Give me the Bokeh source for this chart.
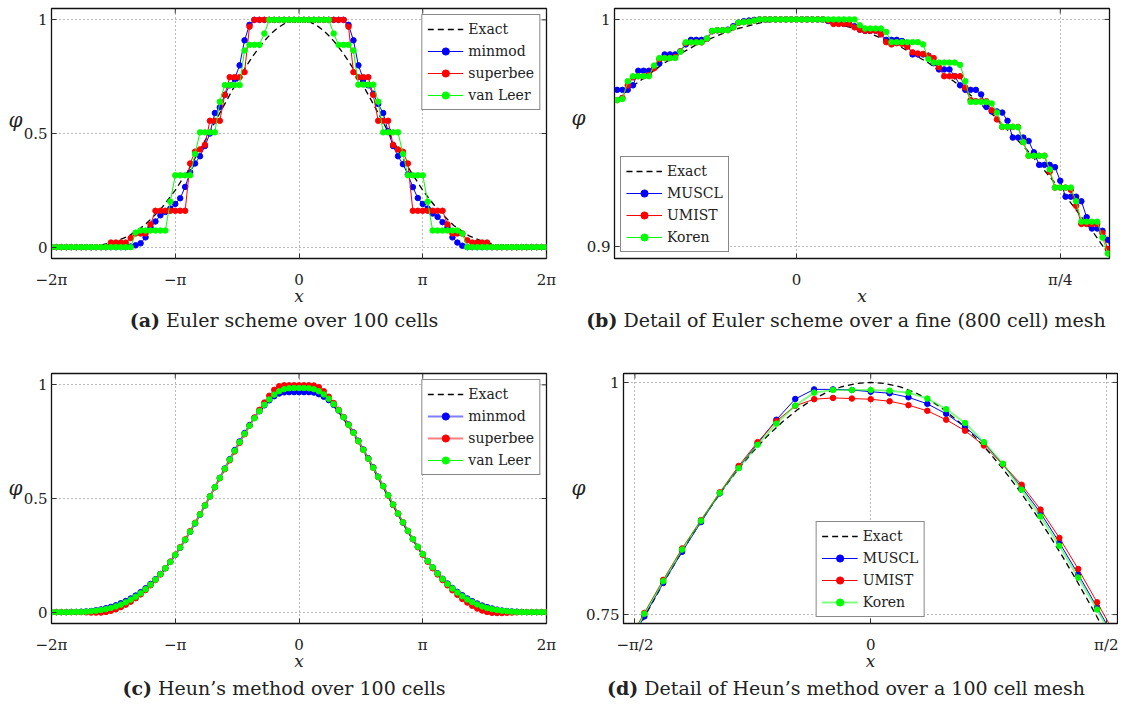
import numpy as np
from bokeh.plotting import figure
from bokeh.models import Range1d, FixedTicker, Legend, LegendItem, LinearAxis, Div
from bokeh.layouts import row, column
from bokeh.embed import file_html
from bokeh.resources import INLINE

PI = np.pi
FONT = "DejaVu Serif"
BLUE, RED, GREEN = "#0000FF", "#FF0000", "#00FF00"

# ---------------- data ----------------
# meshes
X100 = np.linspace(-2 * PI, 2 * PI, 101)                  # 100-cell mesh nodes
J800 = list(range(365, 461))                               # 800-cell mesh indices shown in (b)
X800 = np.array([(-2 + j / 200.0) * PI for j in J800])
XD = X100[37:64]                                           # nodes shown in (d)

# exact solution (x in units of pi/32)
EXACT_K = list(range(-64, -19, 4)) + list(range(-17, 18)) + list(range(20, 65, 4))
EXACT_X = np.array(EXACT_K) * PI / 32
EXACT_Y = [0, 0.0001, 0.0014, 0.0071, 0.0214, 0.0494, 0.0953, 0.1620, 0.25, 0.3571, 0.4780, 0.6050,
           0.6985, 0.7286, 0.7577, 0.7859, 0.8129, 0.8386, 0.8628, 0.8854, 0.9063, 0.9253, 0.9424,
           0.9574, 0.9703, 0.9809, 0.9892, 0.9952, 0.9988, 1.0,
           0.9988, 0.9952, 0.9892, 0.9809, 0.9703, 0.9574, 0.9424, 0.9253, 0.9063, 0.8854, 0.8628,
           0.8386, 0.8129, 0.7859, 0.7577, 0.7286, 0.6985,
           0.6050, 0.4780, 0.3571, 0.25, 0.1620, 0.0953, 0.0494, 0.0214, 0.0071, 0.0014, 0.0001, 0]

# (a) Euler, 100 cells
EULER_MINMOD = [0] * 16 + [0.003, 0.008, 0.017, 0.043, 0.087, 0.113, 0.14, 0.155, 0.17, 0.19, 0.215, 0.265,
                0.33, 0.368, 0.40, 0.445, 0.50, 0.59, 0.615, 0.67, 0.712, 0.74, 0.80, 0.91, 0.978] \
    + [1.0] * 19 + [0.978, 0.91, 0.80, 0.74, 0.712, 0.675, 0.63, 0.59, 0.51, 0.445, 0.40, 0.365, 0.32, 0.264,
                    0.216, 0.19, 0.17, 0.148, 0.133, 0.11, 0.087, 0.043, 0.02, 0.006] + [0] * 17
EULER_SUPERBEE = [0] * 12 + [0.02] * 4 + [0.04] + [0.06] * 3 + [0.10] + [0.16] * 7 \
    + [0.368, 0.42, 0.43, 0.45] + [0.556] * 3 + [0.67] + [0.748] * 3 + [0.77, 0.97] + [1.0] * 19 \
    + [0.97, 0.77] + [0.748] * 3 + [0.67] + [0.556] * 3 + [0.45, 0.43, 0.42, 0.368] + [0.16] * 7 \
    + [0.10] + [0.06] * 3 + [0.03] + [0.02] * 4 + [0] * 12
EULER_VANLEER = [0] * 17 + [0.064] + [0.073] * 6 + [0.20] + [0.316] * 4 + [0.41] + [0.505] * 4 + [0.64] \
    + [0.713] * 4 + [0.865] + [0.89] * 3 + [0.94] + [1.0] * 13 + [0.94] + [0.89] * 3 + [0.865] \
    + [0.715] * 4 + [0.64] + [0.505] * 4 + [0.41] + [0.316] * 4 + [0.20] + [0.073] * 6 + [0.06] + [0] * 17

# (b) Euler detail, 800 cells
FINE_MUSCL = [0.969, 0.969, 0.969, 0.969, 0.971, 0.9774, 0.9774, 0.9774, 0.9786, 0.9807, 0.9846, 0.9846,
              0.9846, 0.986, 0.989, 0.991, 0.991, 0.991, 0.9915, 0.9948, 0.9952, 0.9952, 0.9955, 0.997,
              0.9986, 0.9992, 0.9995, 0.9998] + [1.0] * 12 \
    + [1.0, 0.9993, 0.9988, 0.9985, 0.998, 0.998, 0.997, 0.9955, 0.995, 0.995, 0.995, 0.9935, 0.991, 0.991,
       0.991, 0.9905, 0.9887, 0.9846, 0.9846, 0.9846, 0.984, 0.9807, 0.978, 0.978, 0.978, 0.975, 0.971,
       0.969, 0.969, 0.969, 0.967, 0.9615, 0.9595, 0.9595, 0.959, 0.9554, 0.948, 0.948, 0.948, 0.9465,
       0.9415, 0.936, 0.936, 0.936, 0.935, 0.929, 0.922, 0.922, 0.922, 0.920, 0.913, 0.908, 0.908, 0.907,
       0.903, 0.896]
FINE_UMIST = [0.964, 0.9645, 0.9655, 0.971, 0.9745, 0.975, 0.975, 0.9755, 0.9785, 0.9825, 0.983, 0.983,
              0.9835, 0.986, 0.9895, 0.9899, 0.9899, 0.9899, 0.9915, 0.9948, 0.9952, 0.9952, 0.9953, 0.9965,
              0.9985, 0.9988, 0.999, 0.9995] + [1.0] * 13 \
    + [0.9995, 0.998, 0.998, 0.998, 0.998, 0.9965, 0.9955, 0.995, 0.995, 0.995, 0.9935, 0.990, 0.989,
       0.9895, 0.9893, 0.988, 0.9855, 0.985, 0.9848, 0.984, 0.983, 0.979, 0.975, 0.975, 0.975, 0.975,
       0.970, 0.9645, 0.964, 0.964, 0.964, 0.960, 0.956, 0.9527, 0.9527, 0.9527, 0.9527, 0.946, 0.940,
       0.940, 0.940, 0.940, 0.933, 0.926, 0.926, 0.926, 0.925, 0.918, 0.910, 0.910, 0.910, 0.910, 0.906,
       0.899, 0.892]
FINE_KOREN = [0.964, 0.9645, 0.965, 0.9728, 0.975, 0.975, 0.975, 0.975, 0.9797, 0.983, 0.983, 0.983,
              0.983, 0.9858, 0.9899, 0.9899, 0.9899, 0.9899, 0.9916, 0.995, 0.9952, 0.9952, 0.9952, 0.9965,
              0.9986, 0.9988, 0.999, 0.9995] + [1.0] * 19 \
    + [0.9974, 0.996, 0.996, 0.996, 0.996, 0.9945, 0.990, 0.990, 0.990, 0.990, 0.990, 0.990, 0.989,
       0.9826, 0.981, 0.981, 0.981, 0.981, 0.981, 0.980, 0.9728, 0.9637, 0.9637, 0.9637, 0.9637, 0.963,
       0.959, 0.9528, 0.9528, 0.9528, 0.9525, 0.946, 0.940, 0.940, 0.940, 0.940, 0.934, 0.926, 0.926,
       0.926, 0.926, 0.920, 0.911, 0.911, 0.911, 0.911, 0.904, 0.897, 0.890]

# (c) Heun, 100 cells
HEUN_MINMOD = [0, 0, 0, 0, 0.001, 0.001, 0.002, 0.003, 0.005, 0.008, 0.012, 0.017, 0.023, 0.030, 0.039,
               0.049, 0.060, 0.073, 0.088, 0.105, 0.124, 0.145, 0.168, 0.193, 0.221, 0.251, 0.283, 0.317,
               0.353, 0.390, 0.429, 0.469, 0.509, 0.550, 0.591, 0.632, 0.673, 0.713, 0.751, 0.788, 0.823,
               0.855, 0.884, 0.910, 0.932, 0.950, 0.962, 0.967, 0.968, 0.968, 0.968,
               0.968, 0.968, 0.966, 0.959, 0.948, 0.933, 0.912, 0.887, 0.858, 0.826, 0.791, 0.754, 0.716,
               0.677, 0.637, 0.596, 0.555, 0.514, 0.473, 0.433, 0.394, 0.357, 0.321, 0.287, 0.255, 0.225,
               0.197, 0.171, 0.147, 0.126, 0.106, 0.089, 0.074, 0.060, 0.048, 0.038, 0.029, 0.022, 0.016,
               0.011, 0.007, 0.005, 0.003, 0.002, 0.001, 0, 0, 0, 0, 0]
HEUN_SUPERBEE = [0, 0, 0, 0, 0, 0, 0, -0.001, -0.002, -0.002, -0.002, 0.001, 0.006, 0.013, 0.022, 0.033,
                 0.046, 0.061, 0.078, 0.097, 0.118, 0.141, 0.166, 0.193, 0.222, 0.253, 0.286, 0.320, 0.356,
                 0.393, 0.431, 0.470, 0.509, 0.549, 0.589, 0.629, 0.668, 0.707, 0.745, 0.783, 0.820, 0.856,
                 0.890, 0.922, 0.952, 0.978, 0.994, 0.998, 0.998, 0.998, 0.998,
                 0.998, 0.998, 0.997, 0.990, 0.972, 0.948, 0.920, 0.890, 0.858, 0.824, 0.789, 0.752, 0.714,
                 0.675, 0.635, 0.594, 0.554, 0.513, 0.473, 0.434, 0.395, 0.357, 0.321, 0.286, 0.253, 0.222,
                 0.193, 0.166, 0.141, 0.118, 0.096, 0.076, 0.058, 0.042, 0.028, 0.016, 0.007, 0.001, -0.003,
                 -0.004, -0.004, -0.003, -0.002, -0.001, 0, 0, 0, 0, 0, 0]
HEUN_VANLEER = [0, 0, 0, 0, 0, 0.001, 0.001, 0.002, 0.004, 0.006, 0.009, 0.013, 0.018, 0.025, 0.033, 0.043,
                0.055, 0.068, 0.083, 0.101, 0.121, 0.143, 0.167, 0.193, 0.221, 0.252, 0.284, 0.318, 0.354,
                0.391, 0.430, 0.469, 0.509, 0.550, 0.590, 0.631, 0.671, 0.710, 0.748, 0.785, 0.820, 0.853,
                0.884, 0.912, 0.936, 0.957, 0.972, 0.981, 0.985, 0.986, 0.986,
                0.986, 0.985, 0.981, 0.972, 0.958, 0.939, 0.915, 0.888, 0.857, 0.824, 0.789, 0.752, 0.714,
                0.675, 0.635, 0.595, 0.554, 0.514, 0.474, 0.434, 0.395, 0.358, 0.322, 0.288, 0.256, 0.225,
                0.197, 0.170, 0.146, 0.124, 0.104, 0.086, 0.070, 0.056, 0.044, 0.034, 0.025, 0.018, 0.013,
                0.009, 0.006, 0.004, 0.002, 0.001, 0, 0, 0, 0, 0, 0]

# (d) Heun detail, 100 cells (nodes 37..63)
HEUN_MUSCL = [0.712, 0.748, 0.784, 0.8176, 0.8496, 0.8805, 0.9083, 0.9342, 0.9598, 0.9822, 0.9925, 0.9925,
              0.9918, 0.990, 0.9883, 0.984, 0.9769, 0.9662, 0.952, 0.9349, 0.9118, 0.887, 0.8596, 0.8276,
              0.7934, 0.7579, 0.722]
HEUN_UMIST = [0.716, 0.7518, 0.7874, 0.8212, 0.8517, 0.8816, 0.9101, 0.9357, 0.9584, 0.9748, 0.9819, 0.9833,
              0.9826, 0.9819, 0.9797, 0.9755, 0.9694, 0.9598, 0.948, 0.932, 0.9118, 0.8898, 0.8631, 0.8326,
              0.7991, 0.7632, 0.727]
HEUN_KOREN = [0.714, 0.7508, 0.786, 0.820, 0.851, 0.881, 0.9076, 0.9328, 0.9556, 0.9751, 0.989, 0.9918,
              0.9918, 0.9918, 0.9911, 0.989, 0.9826, 0.9712, 0.9563, 0.9357, 0.9125, 0.8845, 0.8557, 0.824,
              0.7899, 0.7554, 0.719]

# ticks and texts
XT_FULL = [-2 * PI, -PI, 0.0, PI, 2 * PI]
XL_FULL = ["−2π", "−π", "0", "π", "2π"]
XT_B = [0.0, PI / 4]
XL_B = ["0", "π/4"]
XT_D = [-PI / 2, 0.0, PI / 2]
XL_D = ["−π/2", "0", "π/2"]
CAPTIONS = [("(a)", "Euler scheme over 100 cells"),
            ("(b)", "Detail of Euler scheme over a fine (800 cell) mesh"),
            ("(c)", "Heun’s method over 100 cells"),
            ("(d)", "Detail of Heun’s method over a 100 cell mesh")]

# ---------------- helpers ----------------
FRAME_H = 253


def make_panel(width, height, borders, frame_w, xr, yr, xticks, xlabels, yticks, ylabels, phi_y):
    l, r, t, b = borders
    p = figure(width=width, height=height, x_range=Range1d(*xr), y_range=Range1d(*yr),
               output_backend="svg", toolbar_location=None, title=None,
               min_border_left=l, min_border_right=r, min_border_top=t, min_border_bottom=b,
               background_fill_color="white", border_fill_color="white")
    xa = p.below[0]
    ya = p.left[0]
    p.outline_line_color = "#111111"
    p.outline_line_width = 1.3
    xa.ticker = FixedTicker(ticks=xticks)
    xa.major_label_overrides = {float(v): s for v, s in zip(xticks, xlabels)}
    ya.ticker = FixedTicker(ticks=yticks)
    ya.major_label_overrides = {float(v): s for v, s in zip(yticks, ylabels)}
    for ax in (xa, ya):
        ax.major_tick_in = 5
        ax.major_tick_out = 0
        ax.minor_tick_line_color = None
        ax.axis_line_color = "#111111"
        ax.major_tick_line_color = "#333333"
        ax.major_label_text_font = FONT
        ax.major_label_text_font_size = "15px"
        ax.major_label_text_color = "#222222"
    xa.major_label_standoff = 12
    ya.major_label_standoff = 4
    xa.axis_label = "x"
    xa.axis_label_text_font = FONT
    xa.axis_label_text_font_style = "italic"
    xa.axis_label_text_font_size = "17px"
    xa.axis_label_text_color = "#222222"
    xa.axis_label_standoff = -6
    # outer left "axis" carrying only the upright phi symbol
    phi_ax = LinearAxis(ticker=FixedTicker(ticks=[phi_y]), major_label_overrides={float(phi_y): "φ"},
                        major_tick_line_color=None, minor_tick_line_color=None, axis_line_color=None,
                        major_tick_in=0, major_tick_out=0, major_label_standoff=-2,
                        major_label_text_font=FONT, major_label_text_font_style="italic",
                        major_label_text_font_size="20px", major_label_text_color="#222222")
    p.add_layout(phi_ax, "left")
    p.grid.grid_line_color = "#777777"
    p.grid.grid_line_dash = "1 3"
    p.grid.grid_line_width = 1
    # inward ticks on the top and right edges of the box
    dy = 5 * (yr[1] - yr[0]) / FRAME_H
    dx = 5 * (xr[1] - xr[0]) / frame_w
    p.segment(x0=xticks, y0=[yr[1]] * len(xticks), x1=xticks, y1=[yr[1] - dy] * len(xticks),
              line_color="#333333", line_width=1)
    p.segment(x0=[xr[1]] * len(yticks), y0=yticks, x1=[xr[1] - dx] * len(yticks), y1=yticks,
              line_color="#333333", line_width=1)
    return p


def add_series(p, x, ex_x, ex_y, series, marker_size=5.5):
    r_ex = p.line(ex_x, ex_y, line_color="black", line_dash="6 4", line_width=1.3)
    items = [LegendItem(label="Exact", renderers=[r_ex])]
    for name, y, color, lw, la in series:
        rl = p.line(x, y, line_color=color, line_width=lw, line_alpha=la)
        rs = p.scatter(x, y, marker="circle", size=marker_size, fill_color=color, line_color=color)
        items.append(LegendItem(label=name, renderers=[rl, rs]))
    return items


def add_legend(p, items, loc):
    lg = Legend(items=items, location=loc, border_line_color="#111111", border_line_width=1.2,
                label_text_font=FONT, label_text_font_size="14px", label_text_color="#222222",
                glyph_width=36, glyph_height=18, label_height=18, spacing=4, padding=5, margin=6,
                label_standoff=5, background_fill_alpha=1.0)
    p.add_layout(lg)


def caption(tag, text, width, height, center, pad_top, box=540):
    html = ('<div style="font-family:\'DejaVu Serif\',serif;font-size:19px;color:#222222;'
            f'line-height:24px;padding-top:{pad_top}px;margin-left:{center - box // 2}px;width:{box}px;'
            f'text-align:center;white-space:nowrap"><b>{tag}</b> {text}</div>')
    return Div(text=html, width=width, height=height, margin=0)


# ---------------- panels ----------------
pa = make_panel(556, 308, (51, 10, 8, 47), 495, (-2 * PI, 2 * PI), (-0.05, 1.05),
                XT_FULL, XL_FULL, [0, 0.5, 1], ["0", "0.5", "1"], 0.56)
it = add_series(pa, X100, EXACT_X, EXACT_Y,
                [("minmod", EULER_MINMOD, BLUE, 1, 1.0), ("superbee", EULER_SUPERBEE, RED, 1, 1.0),
                 ("van Leer", EULER_VANLEER, GREEN, 1, 1.0)])
add_legend(pa, it, "top_right")

pb = make_panel(562, 308, (58, 9, 8, 47), 495, (-0.542, 0.932), (0.8948, 1.0048),
                XT_B, XL_B, [0.9, 1.0], ["0.9", "1"], 0.9567)
it = add_series(pb, X800, EXACT_X, EXACT_Y,
                [("MUSCL", FINE_MUSCL, BLUE, 1, 1.0), ("UMIST", FINE_UMIST, RED, 1, 1.0),
                 ("Koren", FINE_KOREN, GREEN, 1, 1.0)])
add_legend(pb, it, "bottom_left")

pc = make_panel(556, 335, (51, 10, 35, 47), 495, (-2 * PI, 2 * PI), (-0.05, 1.05),
                XT_FULL, XL_FULL, [0, 0.5, 1], ["0", "0.5", "1"], 0.546)
it = add_series(pc, X100, EXACT_X, EXACT_Y,
                [("minmod", HEUN_MINMOD, BLUE, 2, 0.5), ("superbee", HEUN_SUPERBEE, RED, 2, 0.5),
                 ("van Leer", HEUN_VANLEER, GREEN, 1, 1.0)])
add_legend(pc, it, "top_right")

pd_ = make_panel(562, 335, (67, 1, 35, 47), 494, (-1.647, 1.644), (0.7404, 1.0096),
                 XT_D, XL_D, [0.75, 1.0], ["0.75", "1"], 0.8867)
it = add_series(pd_, XD, EXACT_X, EXACT_Y,
                [("MUSCL", HEUN_MUSCL, BLUE, 1, 1.0), ("UMIST", HEUN_UMIST, RED, 1, 1.0),
                 ("Koren", HEUN_KOREN, GREEN, 2, 0.5)])
add_legend(pd_, it, "bottom")

cap_a = caption(*CAPTIONS[0], 556, 30, 284, 0)
cap_b = caption(*CAPTIONS[1], 562, 30, 290, 0)
cap_c = caption(*CAPTIONS[2], 556, 30, 284, 3)
cap_d = caption(*CAPTIONS[3], 562, 30, 290, 3)

layout = column(row(pa, pb), row(cap_a, cap_b), row(pc, pd_), row(cap_c, cap_d))
open("out.html", "w").write(file_html(layout, INLINE))
